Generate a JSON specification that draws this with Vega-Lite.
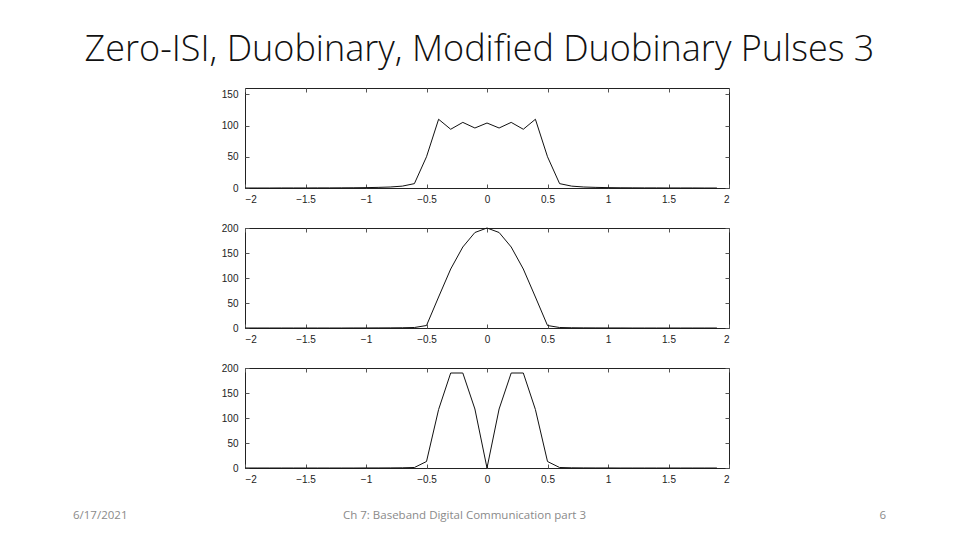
{
  "$schema": "https://vega.github.io/schema/vega-lite/v6.json",
  "background": "white",
  "padding": {"top": 32, "left": 73, "right": 0, "bottom": 0},
  "title": {
    "text": "Zero-ISI, Duobinary, Modified Duobinary Pulses 3",
    "font": "Open Sans",
    "fontWeight": 300,
    "fontSize": 36,
    "color": "#111",
    "anchor": "middle",
    "dx": -8,
    "offset": 18
  },
  "config": {
    "view": {"stroke": "#222", "strokeWidth": 1},
    "axis": {
      "domain": false,
      "grid": false,
      "title": null,
      "tickColor": "#555",
      "tickSize": -4,
      "labelFont": "Liberation Sans",
      "labelFontSize": 10,
      "labelColor": "#222"
    },
    "axisX": {"labelPadding": 10},
    "axisY": {"labelPadding": 11}
  },
  "datasets": {
    "pulses": [
      {"f": -2.0, "zero": 0, "duo": 0, "mod": 0},
      {"f": -1.9, "zero": 0, "duo": 0, "mod": 0},
      {"f": -1.8, "zero": 0, "duo": 0, "mod": 0},
      {"f": -1.7, "zero": 0.1, "duo": 0, "mod": 0},
      {"f": -1.6, "zero": 0.1, "duo": 0, "mod": 0},
      {"f": -1.5, "zero": 0.1, "duo": 0, "mod": 0},
      {"f": -1.4, "zero": 0.2, "duo": 0, "mod": 0},
      {"f": -1.3, "zero": 0.2, "duo": 0, "mod": 0},
      {"f": -1.2, "zero": 0.3, "duo": 0, "mod": 0},
      {"f": -1.1, "zero": 0.4, "duo": 0.1, "mod": 0},
      {"f": -1.0, "zero": 0.6, "duo": 0.1, "mod": 0.1},
      {"f": -0.9, "zero": 1, "duo": 0.2, "mod": 0.1},
      {"f": -0.8, "zero": 1.6, "duo": 0.3, "mod": 0.2},
      {"f": -0.7, "zero": 3, "duo": 0.5, "mod": 0.4},
      {"f": -0.6, "zero": 7, "duo": 1, "mod": 1},
      {"f": -0.5, "zero": 50, "duo": 5, "mod": 13},
      {"f": -0.4, "zero": 110, "duo": 62, "mod": 117},
      {"f": -0.3, "zero": 94, "duo": 118, "mod": 190},
      {"f": -0.2, "zero": 105, "duo": 162, "mod": 190},
      {"f": -0.1, "zero": 96, "duo": 191, "mod": 118},
      {"f": 0.0, "zero": 104, "duo": 200, "mod": 0},
      {"f": 0.1, "zero": 96, "duo": 191, "mod": 118},
      {"f": 0.2, "zero": 105, "duo": 162, "mod": 190},
      {"f": 0.3, "zero": 94, "duo": 118, "mod": 190},
      {"f": 0.4, "zero": 110, "duo": 62, "mod": 117},
      {"f": 0.5, "zero": 50, "duo": 5, "mod": 13},
      {"f": 0.6, "zero": 7, "duo": 1, "mod": 1},
      {"f": 0.7, "zero": 3, "duo": 0.5, "mod": 0.4},
      {"f": 0.8, "zero": 1.6, "duo": 0.3, "mod": 0.2},
      {"f": 0.9, "zero": 1, "duo": 0.2, "mod": 0.1},
      {"f": 1.0, "zero": 0.6, "duo": 0.1, "mod": 0.1},
      {"f": 1.1, "zero": 0.4, "duo": 0.1, "mod": 0},
      {"f": 1.2, "zero": 0.3, "duo": 0, "mod": 0},
      {"f": 1.3, "zero": 0.2, "duo": 0, "mod": 0},
      {"f": 1.4, "zero": 0.2, "duo": 0, "mod": 0},
      {"f": 1.5, "zero": 0.1, "duo": 0, "mod": 0},
      {"f": 1.6, "zero": 0.1, "duo": 0, "mod": 0},
      {"f": 1.7, "zero": 0.1, "duo": 0, "mod": 0},
      {"f": 1.8, "zero": 0, "duo": 0, "mod": 0},
      {"f": 1.9, "zero": 0, "duo": 0, "mod": 0}
    ],
    "footer": [
      {"text": "6/17/2021"},
      {"text": "Ch 7: Baseband Digital Communication part 3"},
      {"text": "6"}
    ]
  },
  "vconcat": [
    {
      "width": 484,
      "height": 100,
      "data": {"name": "pulses"},
      "layer": [
        {
          "mark": {"type": "line", "color": "#111", "strokeWidth": 1},
          "encoding": {
            "x": {"field": "f", "type": "quantitative", "scale": {"domain": [-2, 2]}, "axis": {"values": [-2, -1.5, -1, -0.5, 0, 0.5, 1, 1.5, 2], "format": "~g"}},
            "y": {"field": "zero", "type": "quantitative", "scale": {"domain": [0, 150]}, "axis": {"values": [0, 50, 100, 150]}}
          }
        },
        {
          "mark": {"type": "line", "opacity": 0},
          "encoding": {
            "x": {"field": "f", "type": "quantitative", "axis": {"orient": "top", "labels": false, "values": [-2, -1.5, -1, -0.5, 0, 0.5, 1, 1.5, 2]}},
            "y": {"field": "zero", "type": "quantitative", "axis": {"orient": "right", "labels": false, "values": [0, 50, 100, 150]}}
          }
        }
      ],
      "resolve": {"axis": {"x": "independent", "y": "independent"}}
    },
    {
      "width": 484,
      "height": 100,
      "data": {"name": "pulses"},
      "layer": [
        {
          "mark": {"type": "line", "color": "#111", "strokeWidth": 1},
          "encoding": {
            "x": {"field": "f", "type": "quantitative", "scale": {"domain": [-2, 2]}, "axis": {"values": [-2, -1.5, -1, -0.5, 0, 0.5, 1, 1.5, 2], "format": "~g"}},
            "y": {"field": "duo", "type": "quantitative", "scale": {"domain": [0, 200]}, "axis": {"values": [0, 50, 100, 150, 200]}}
          }
        },
        {
          "mark": {"type": "line", "opacity": 0},
          "encoding": {
            "x": {"field": "f", "type": "quantitative", "axis": {"orient": "top", "labels": false, "values": [-2, -1.5, -1, -0.5, 0, 0.5, 1, 1.5, 2]}},
            "y": {"field": "duo", "type": "quantitative", "axis": {"orient": "right", "labels": false, "values": [0, 50, 100, 150, 200]}}
          }
        }
      ],
      "resolve": {"axis": {"x": "independent", "y": "independent"}}
    },
    {
      "width": 484,
      "height": 100,
      "data": {"name": "pulses"},
      "layer": [
        {
          "mark": {"type": "line", "color": "#111", "strokeWidth": 1},
          "encoding": {
            "x": {"field": "f", "type": "quantitative", "scale": {"domain": [-2, 2]}, "axis": {"values": [-2, -1.5, -1, -0.5, 0, 0.5, 1, 1.5, 2], "format": "~g"}},
            "y": {"field": "mod", "type": "quantitative", "scale": {"domain": [0, 200]}, "axis": {"values": [0, 50, 100, 150, 200]}}
          }
        },
        {
          "mark": {"type": "line", "opacity": 0},
          "encoding": {
            "x": {"field": "f", "type": "quantitative", "axis": {"orient": "top", "labels": false, "values": [-2, -1.5, -1, -0.5, 0, 0.5, 1, 1.5, 2]}},
            "y": {"field": "mod", "type": "quantitative", "axis": {"orient": "right", "labels": false, "values": [0, 50, 100, 150, 200]}}
          }
        }
      ],
      "resolve": {"axis": {"x": "independent", "y": "independent"}}
    },
    {
      "width": 829,
      "height": 28,
      "view": {"stroke": null},
      "data": {"name": "footer"},
      "encoding": {
        "x": {"field": "text", "type": "nominal", "sort": null, "scale": {"type": "point", "padding": 0}, "axis": null}
      },
      "layer": [
        {
          "transform": [{"filter": "datum.text == '6/17/2021'"}],
          "mark": {"type": "text", "align": "left", "baseline": "middle", "font": "Open Sans", "fontSize": 11.5, "color": "#8a8a8a"},
          "encoding": {"text": {"field": "text"}}
        },
        {
          "transform": [{"filter": "datum.text == 'Ch 7: Baseband Digital Communication part 3'"}],
          "mark": {"type": "text", "align": "center", "baseline": "middle", "dx": -23, "font": "Open Sans", "fontSize": 11.5, "color": "#8a8a8a"},
          "encoding": {"text": {"field": "text"}}
        },
        {
          "transform": [{"filter": "datum.text == '6'"}],
          "mark": {"type": "text", "align": "right", "baseline": "middle", "dx": -16, "font": "Open Sans", "fontSize": 11.5, "color": "#8a8a8a"},
          "encoding": {"text": {"field": "text"}}
        }
      ]
    }
  ],
  "center": true,
  "spacing": 17
}
